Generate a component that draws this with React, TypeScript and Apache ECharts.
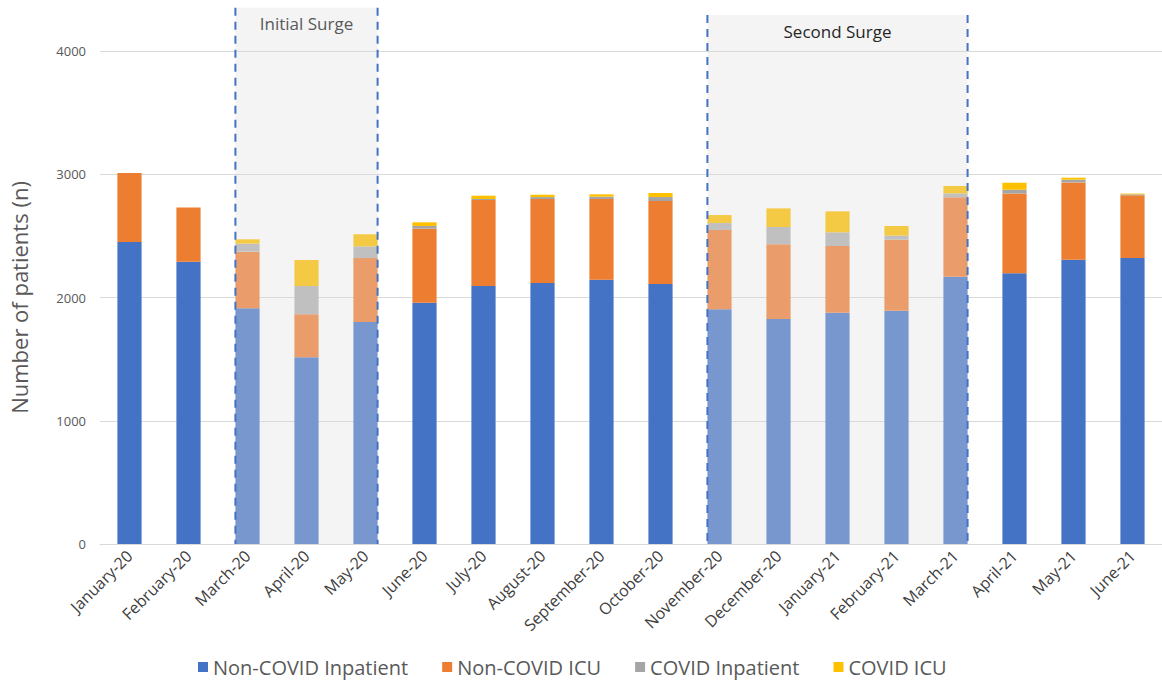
import React, { useEffect, useRef } from "react";
import * as echarts from "echarts";

const categories = [
  "January-20", "February-20", "March-20", "April-20", "May-20", "June-20",
  "July-20", "August-20", "September-20", "October-20", "November-20", "December-20",
  "January-21", "February-21", "March-21", "April-21", "May-21", "June-21",
];

const nonCovidInpatient = [2450, 2290, 1912, 1515, 1801, 1958, 2093, 2118, 2145, 2110, 1904, 1826, 1877, 1893, 2169, 2196, 2307, 2320];
const nonCovidICU = [560, 440, 460, 349, 519, 600, 698, 681, 654, 673, 644, 606, 541, 576, 644, 647, 627, 509];
const covidInpatient = [0, 0, 65, 229, 95, 22, 8, 16, 19, 32, 56, 140, 111, 33, 32, 32, 22, 8];
const covidICU = [0, 0, 35, 211, 98, 30, 27, 19, 19, 33, 65, 151, 170, 78, 60, 57, 16, 6];

const yTicks = [0, 1000, 2000, 3000, 4000];

// surge periods: [start category index, end category index, top value]
const surgeLabels = ["Initial Surge", "Second Surge"];
const surgeStart = [2, 10];
const surgeEnd = [4, 14];
const surgeTop = [4350, 4292];

const seriesNames = ["Non-COVID Inpatient", "Non-COVID ICU", "COVID Inpatient", "COVID ICU"];
const seriesColors = ["#4472C4", "#ED7D31", "#A5A5A5", "#FFC000"];
const surgeColors = ["#7897CE", "#EA9D6A", "#C0C0C0", "#F4C944"];

const BAR_FRACTION = 0.41;
const FONT = "'Open Sans', 'Noto Sans', sans-serif";

function inSurge(i: number) {
  for (let k = 0; k < surgeStart.length; k++) {
    if (i >= surgeStart[k] && i <= surgeEnd[k]) return true;
  }
  return false;
}

export default function App() {
  const ref = useRef<HTMLDivElement>(null);
  useEffect(() => {
    if (!ref.current) return;
    const chart = echarts.init(ref.current, null, { renderer: "svg" });
    const values = [nonCovidInpatient, nonCovidICU, covidInpatient, covidICU];
    const surgeData = surgeStart.map((s, k) => [s, surgeEnd[k], surgeTop[k], k]);

    const barSeries = values.map((arr, si) => ({
      name: seriesNames[si],
      type: "bar",
      stack: "total",
      barWidth: BAR_FRACTION * 100 + "%",
      itemStyle: { color: seriesColors[si] },
      data: arr.map((v, i) =>
        inSurge(i) ? { value: v, itemStyle: { color: surgeColors[si] } } : v
      ),
      z: 2,
    }));

    const edges = (params: any, api: any) => {
      const s = api.value(0);
      const e = api.value(1);
      const top = api.value(2);
      const bw = api.size([1, 0])[0];
      const half = (bw * BAR_FRACTION) / 2;
      const pS = api.coord([s, 0]);
      const pE = api.coord([e, top]);
      return { x0: pS[0] - half, x1: pE[0] + half, y0: pE[1], y1: pS[1] };
    };

    const option: any = {
      animation: false,
      textStyle: { fontFamily: FONT },
      grid: { left: 100, right: 0, top: 51, bottom: 138, outerBoundsMode: "none", containLabel: false },
      legend: {
        data: seriesNames,
        left: 193,
        top: 652,
        icon: "rect",
        itemWidth: 10,
        itemHeight: 10,
        itemGap: 34,
        textStyle: { fontSize: 20, color: "#595959", fontFamily: FONT },
      },
      xAxis: {
        type: "category",
        data: categories,
        axisLine: { lineStyle: { color: "#D9D9D9" } },
        axisTick: { lineStyle: { color: "#D9D9D9" }, length: 5 },
        axisLabel: { rotate: 45, interval: 0, fontSize: 16, color: "#404040", margin: 9, fontFamily: FONT },
      },
      yAxis: {
        type: "value",
        min: yTicks[0],
        max: yTicks[yTicks.length - 1],
        interval: 1000,
        name: "Number of patients (n)",
        nameLocation: "middle",
        nameGap: 70,
        nameTextStyle: { fontSize: 22, color: "#595959", fontFamily: FONT },
        axisLabel: { fontSize: 13, color: "#595959", margin: 14, fontFamily: FONT, formatter: (v: number) => String(v) },
        splitLine: { lineStyle: { color: "#D9D9D9" } },
        axisLine: { show: false },
        axisTick: { show: false },
      },
      series: [
        {
          type: "custom",
          name: "surgeBg",
          z: -1,
          silent: true,
          data: surgeData,
          encode: { x: 0, y: 2 },
          renderItem: (params: any, api: any) => {
            const r = edges(params, api);
            return {
              type: "rect",
              shape: { x: r.x0, y: r.y0, width: r.x1 - r.x0, height: r.y1 - r.y0 },
              style: { fill: "#F4F4F4" },
            };
          },
        },
        ...barSeries,
        {
          type: "custom",
          name: "surgeLines",
          z: 5,
          silent: true,
          data: surgeData,
          encode: { x: 0, y: 2 },
          renderItem: (params: any, api: any) => {
            const r = edges(params, api);
            const k = api.value(3);
            const ls = { stroke: "#4472C4", lineWidth: 2, lineDash: [8, 6] };
            return {
              type: "group",
              children: [
                { type: "line", shape: { x1: r.x0, y1: r.y0, x2: r.x0, y2: r.y1 }, style: ls },
                { type: "line", shape: { x1: r.x1, y1: r.y0, x2: r.x1, y2: r.y1 }, style: ls },
                {
                  type: "text",
                  x: (r.x0 + r.x1) / 2,
                  y: r.y0 + 16,
                  style: {
                    text: surgeLabels[k],
                    fill: k === 0 ? "#595959" : "#262626",
                    font: "17px " + FONT,
                    align: "center",
                    verticalAlign: "middle",
                  },
                },
              ],
            };
          },
        },
      ],
    };
    chart.setOption(option);
    return () => chart.dispose();
  }, []);
  return (
    <div
      ref={ref}
      style={{ position: "fixed", left: 0, top: 0, width: 1162, height: 682, background: "#fff" }}
    />
  );
}
